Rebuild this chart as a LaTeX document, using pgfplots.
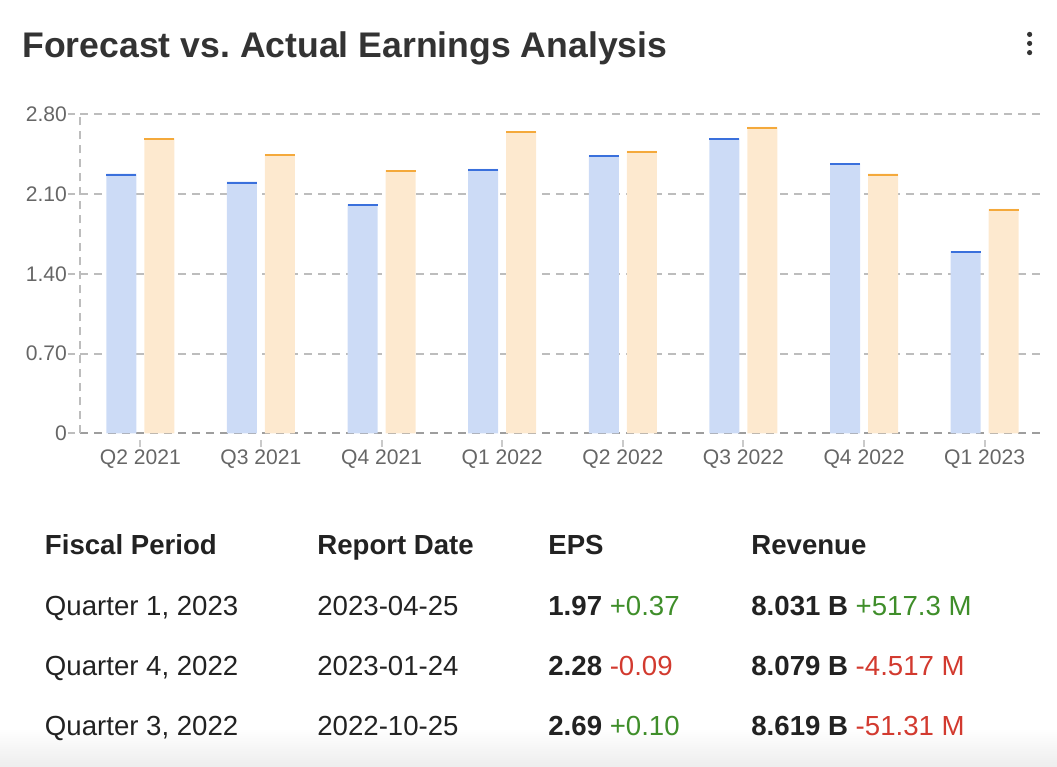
\documentclass[border=0pt]{standalone}
\usepackage{pgfplots}
\pgfplotsset{compat=1.18}
\usepackage{pgfplotstable}
\usepackage{fontspec}
\setmainfont{Liberation Sans}
\frenchspacing

\definecolor{fcfill}{HTML}{CCDBF6}
\definecolor{fcline}{HTML}{3A70DC}
\definecolor{acfill}{HTML}{FDE9CF}
\definecolor{acline}{HTML}{F4A93B}
\definecolor{gridc}{HTML}{BDBDBD}
\definecolor{zeroc}{HTML}{9E9E9E}
\definecolor{labc}{HTML}{666666}
\definecolor{titlec}{HTML}{333333}
\definecolor{txt}{HTML}{222222}
\definecolor{pos}{HTML}{3F8E2A}
\definecolor{neg}{HTML}{D23A2F}

% EPS forecast (fc) and actual (ac) per quarter
\pgfplotstableread{
x fc ac
0 2.28 2.59
1 2.21 2.45
2 2.01 2.31
3 2.32 2.65
4 2.44 2.48
5 2.59 2.69
6 2.37 2.28
7 1.60 1.97
}\eps

\begin{document}
\begin{tikzpicture}
% page = 1057 x 767 px, 1 px = 0.5pt
\path[use as bounding box] (0,0) rectangle (528.5pt,-383.5pt);
\shade[top color=white, bottom color=black!7, draw=none] (0,-364pt) rectangle (528.5pt,-383.5pt);

\node[anchor=base west, inner sep=0, text=titlec, font=\fontsize{17.8}{20}\selectfont\bfseries]
  at (11pt,-28.5pt) {Forecast vs. Actual Earnings Analysis};
\foreach \yy in {-17.2pt,-21.7pt,-26.3pt} \fill[titlec] (514.8pt,\yy) circle (1.3pt);

\begin{axis}[
  at={(40pt,-216.65pt)}, anchor=south west,
  scale only axis, width=482.5pt, height=159.5pt,
  xmin=-0.5, xmax=7.5, ymin=0, ymax=2.8,
  xtick={0,...,7},
  xticklabels={Q2 2021,Q3 2021,Q4 2021,Q1 2022,Q2 2022,Q3 2022,Q4 2022,Q1 2023},
  ytick={0,0.7,1.4,2.1,2.8},
  yticklabels={0,0.70,1.40,2.10,2.80},
  axis lines*=left,
  x axis line style={-, draw=zeroc, line width=1pt, dash pattern=on 4pt off 3pt},
  y axis line style={-, draw=gridc, line width=1pt, dash pattern=on 4pt off 3pt},
  ymajorgrids,
  grid style={draw=gridc, line width=1pt, dash pattern=on 4pt off 3pt},
  tick align=outside,
  major tick length=3.5pt,
  xtick style={draw=gridc!80, line width=1pt, yshift=-3.5pt},
  ytick style={draw=gridc, line width=1pt, xshift=-2.5pt},
  ticklabel style={font=\fontsize{10.55}{12}\selectfont, text=labc},
  xticklabel style={anchor=base, yshift=-12pt},
  yticklabel style={anchor=east, xshift=0.5pt},
  clip=false,
]
\addplot[ybar, bar width=15pt, bar shift=-9.5pt, fill=fcfill, draw=none] table[x=x,y=fc]{\eps};
\addplot[ybar, bar width=15pt, bar shift=9.5pt, fill=acfill, draw=none] table[x=x,y=ac]{\eps};
\addplot[only marks, mark=-, mark size=7.5pt,
  mark options={draw=fcline, line width=1pt, xshift=-9.5pt, yshift=-0.5pt}] table[x=x,y=fc]{\eps};
\addplot[only marks, mark=-, mark size=7.5pt,
  mark options={draw=acline, line width=1pt, xshift=9.5pt, yshift=-0.5pt}] table[x=x,y=ac]{\eps};
\end{axis}

\begin{scope}[every node/.style={anchor=base west, inner sep=0, text=txt, font=\fontsize{13.8}{16}\selectfont}]
\node[font=\fontsize{13.8}{16}\selectfont\bfseries] at (22.3pt,-277pt) {Fiscal Period};
\node[font=\fontsize{13.8}{16}\selectfont\bfseries] at (158.5pt,-277pt) {Report Date};
\node[font=\fontsize{13.8}{16}\selectfont\bfseries] at (274pt,-277pt) {EPS};
\node[font=\fontsize{13.8}{16}\selectfont\bfseries] at (375.5pt,-277pt) {Revenue};

\node at (22.3pt,-307.5pt) {Quarter 1, 2023};
\node at (158.5pt,-307.5pt) {2023-04-25};
\node at (274pt,-307.5pt) {\textbf{1.97} \textcolor{pos}{+0.37}};
\node at (375.5pt,-307.5pt) {\textbf{8.031 B} \textcolor{pos}{+517.3 M}};

\node at (22.3pt,-337.5pt) {Quarter 4, 2022};
\node at (158.5pt,-337.5pt) {2023-01-24};
\node at (274pt,-337.5pt) {\textbf{2.28} \textcolor{neg}{-0.09}};
\node at (375.5pt,-337.5pt) {\textbf{8.079 B} \textcolor{neg}{-4.517 M}};

\node at (22.3pt,-367.75pt) {Quarter 3, 2022};
\node at (158.5pt,-367.75pt) {2022-10-25};
\node at (274pt,-367.75pt) {\textbf{2.69} \textcolor{pos}{+0.10}};
\node at (375.5pt,-367.75pt) {\textbf{8.619 B} \textcolor{neg}{-51.31 M}};
\end{scope}
\end{tikzpicture}
\end{document}
